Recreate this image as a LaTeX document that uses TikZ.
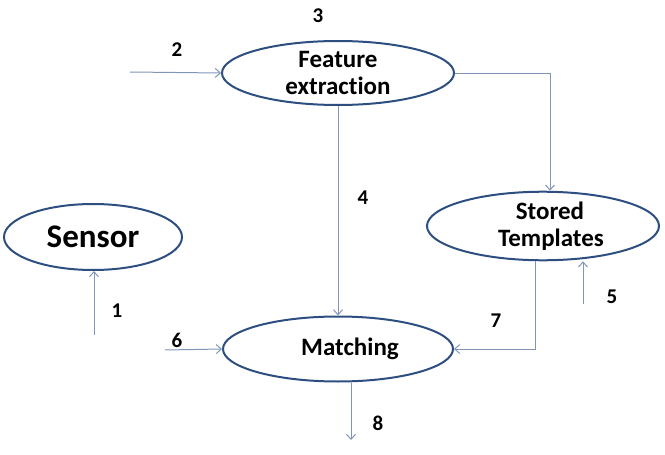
\documentclass[tikz,border=0pt]{standalone}
\usepackage{fontspec}
\setmainfont{Carlito}[Ligatures={NoCommon,NoDiscretionary}]
\usetikzlibrary{shapes.geometric,arrows.meta}
\definecolor{ellblue}{RGB}{45,78,128}
\definecolor{arrblue}{RGB}{128,150,185}
\tikzset{
  proc/.style={ellipse, draw=ellblue, line width=2pt, inner sep=0pt, align=center, font=\bfseries\fontsize{25}{27}\selectfont},
  conn/.style={draw=arrblue, line width=1pt, -{Straight Barb[length=5pt,width=9pt]}},
  num/.style={font=\bfseries\fontsize{21}{23}\selectfont}
}
\begin{document}
\begin{tikzpicture}[x=1pt,y=-1pt]
\useasboundingbox (0,0) rectangle (665,455);
\node[proc, minimum width=178, minimum height=66, font=\bfseries\fontsize{33}{35}\selectfont] (se) at (93,237) {Sensor};
\node[proc, minimum width=232, minimum height=64] (fe) at (338,73) {Feature\\extraction};
\node[proc, minimum width=232, minimum height=65] (st) at (543,226) {\hspace*{14pt}Stored\\\hspace*{16pt}Templates};
\node[proc, minimum width=230, minimum height=65] (ma) at (338,349) {\hspace*{24pt}\raisebox{-4pt}{Matching}};

\coordinate (c1) at (94,335);
\coordinate (c2) at (130,72);
\coordinate (c5) at (583,304);
\coordinate (c6) at (165,350);
\coordinate (c8) at (351,440);

\draw[conn] (c1) -- (se.south -| c1);
\draw[conn] (c2) -- (fe.west);
\draw[conn] (fe.east) -| ([xshift=7pt]st.north);
\draw[conn] (fe.south) -- (ma.north);
\draw[conn] (c5) -- (st.south -| c5);
\draw[conn] (c6) -- (ma.west);
\draw[conn] ([xshift=-8pt]st.south) |- (ma.east);
\draw[conn] (ma.south -| c8) -- (c8);

\node[num] (n1) at (117,311) {1};
\node[num] (n2) at (177,50) {2};
\node[num] (n3) at (318,16) {3};
\node[num] (n4) at (363,198) {4};
\node[num] (n5) at (612,297) {5};
\node[num] (n6) at (177,340) {6};
\node[num] (n7) at (496,321) {7};
\node[num] (n8) at (378,423) {8};
\end{tikzpicture}
\end{document}
